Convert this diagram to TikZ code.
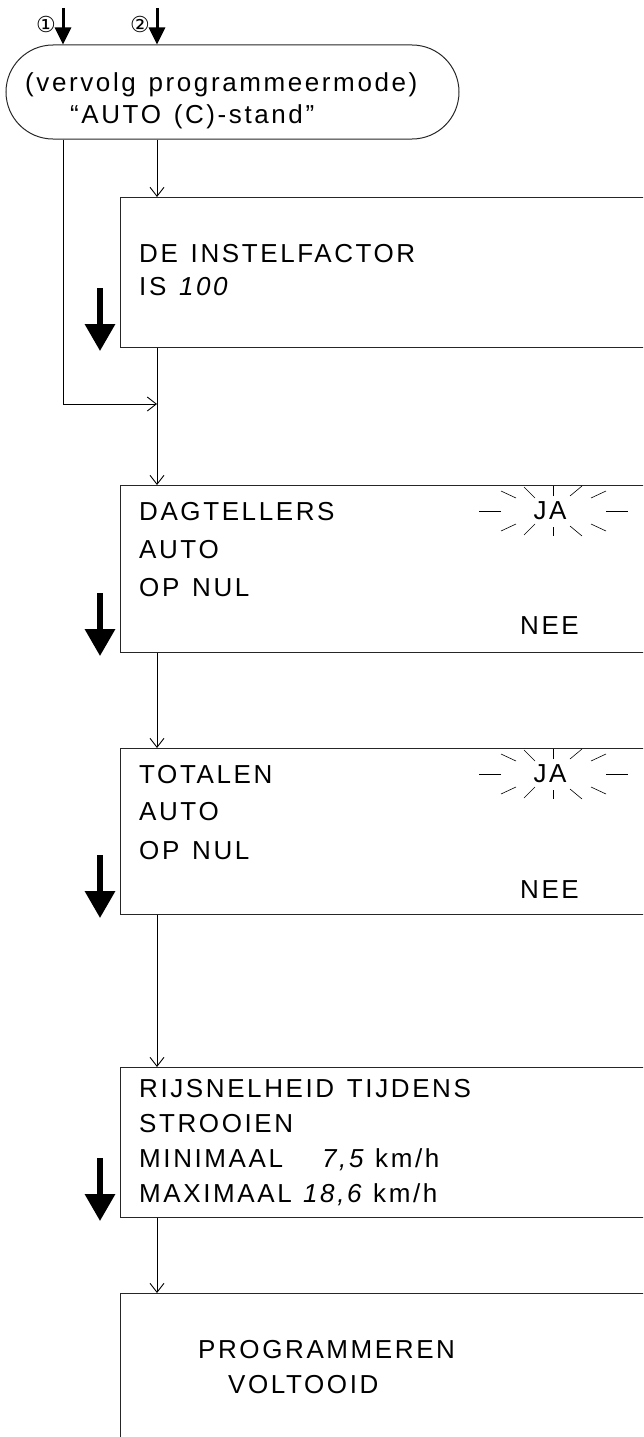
\documentclass[tikz,border=0pt]{standalone}
\usepackage{fontspec}
\setmainfont{Liberation Sans}[LetterSpace=10, WordSpace=1.3]
\newfontfamily\circfont{DejaVu Sans}
\usetikzlibrary{arrows.meta,shapes.misc}

\tikzset{
  box/.style={draw=black!85, line width=1.1pt, minimum width=560pt, anchor=north west, inner sep=0pt},
  flow/.style={line width=0.9pt, -{Straight Barb[length=9pt,width=14pt]}},
  bigarrow/.style={line width=6pt, -{Triangle[length=27pt,width=29pt]}},
  inarrow/.style={line width=3pt, -{Triangle[length=17pt,width=16pt]}},
  txt/.style={anchor=base west, inner sep=0pt, text=black},
  ray/.style={line width=0.6pt},
}

\begin{document}
\begin{tikzpicture}[x=1pt, y=-1pt, font=\fontsize{26}{30}\selectfont]
\useasboundingbox (0,0) rectangle (643,1437);
\clip (0,0) rectangle (643,1437);

% start of this part of the chart
\node[draw=black!85, line width=1pt, rounded rectangle, minimum width=453pt, minimum height=94pt, inner sep=0pt] (term) at (232.5,92) {};
\node[txt] (term1) at (25,92) {(vervolg programmeermode)};
\node[txt] (term2) at (70,123) {“AUTO (C)-stand”};

% entries 1 and 2
\coordinate (in1) at (63,8);
\coordinate (in2) at (157,8);
\node[font=\circfont\fontsize{22}{22}\selectfont, inner sep=0pt] (c1) at (46,24) {①};
\node[font=\circfont\fontsize{22}{22}\selectfont, inner sep=0pt] (c2) at (140,24) {②};
\draw[inarrow] (in1) -- (in1 |- term.north);
\draw[inarrow] (in2) -- (in2 |- term.north);

% the display boxes (open at the right)
\node[box, minimum height=150pt] (b1) at (120,197) {};
\node[box, minimum height=167pt] (b2) at (120,485) {};
\node[box, minimum height=166pt] (b3) at (120,748) {};
\node[box, minimum height=150pt] (b4) at (120,1067) {};
\node[box, minimum height=200pt] (b5) at (120,1293) {};

% texts
\node[txt] (b1l1) at (139,262) {DE INSTELFACTOR};
\node[txt] (b1l2) at (139,295) {IS \textit{100}};

\node[txt] (b2l1) at (139,520) {DAGTELLERS};
\node[txt] (b2l2) at (139,558) {AUTO};
\node[txt] (b2l3) at (139,596) {OP NUL};
\node[txt] (b2nee) at (520,634) {NEE};
\node[inner sep=0pt] (ja2) at (550,511) {JA};

\node[txt] (b3l1) at (139,783) {TOTALEN};
\node[txt] (b3l2) at (139,820) {AUTO};
\node[txt] (b3l3) at (139,859) {OP NUL};
\node[txt] (b3nee) at (520,898) {NEE};
\node[inner sep=0pt] (ja3) at (550,774) {JA};

\node[txt] (b4l1) at (139,1097) {RIJSNELHEID TIJDENS};
\node[txt] (b4l2) at (139,1132) {STROOIEN};
\node[txt] (b4l3) at (139,1167) {MINIMAAL};
\node[txt] (b4l4) at (139,1202) {MAXIMAAL};
\node[txt] (b4min) at (322,1167) {\textit{7,5}\hspace{9pt}km/h};
\node[txt] (b4max) at (303,1202) {\textit{18,6}\hspace{9pt}km/h};

\node[txt] (b5l1) at (198,1358) {PROGRAMMEREN};
\node[txt] (b5l2) at (228,1393) {VOLTOOID};

% blinking JA
\foreach \c in {ja2,ja3}
  \foreach \ax/\ay/\bx/\by in {-52/0/-74/0, 53/0/75/0, 0/-15/0/-25, 0/16/0/25,
      -18/-13/-29/-24, 17/-15/29/-25, -37/-13/-52/-20, 38/-13/53/-20,
      -18/13/-29/24, 17/15/29/25, -37/13/-52/20, 38/13/53/20}
    \draw[ray, shift={(\c)}, xshift=3pt] (\ax,\ay) -- (\bx,\by);

% flow lines
\coordinate (junc) at (157,404);
\draw[flow] (term.south -| in2) -- (b1.north -| in2);
\draw[flow] (term.south -| in1) |- (junc);
\draw[flow] (b1.south -| in2) -- (b2.north -| in2);
\draw[flow] (b2.south -| in2) -- (b3.north -| in2);
\draw[flow] (b3.south -| in2) -- (b4.north -| in2);
\draw[flow] (b4.south -| in2) -- (b5.north -| in2);

% key arrows
\foreach \b in {b1,b2,b3,b4}
  \draw[bigarrow] ([xshift=-20pt,yshift=60pt]\b.south west) -- ([xshift=-20pt,yshift=-3pt]\b.south west);

\end{tikzpicture}
\end{document}
